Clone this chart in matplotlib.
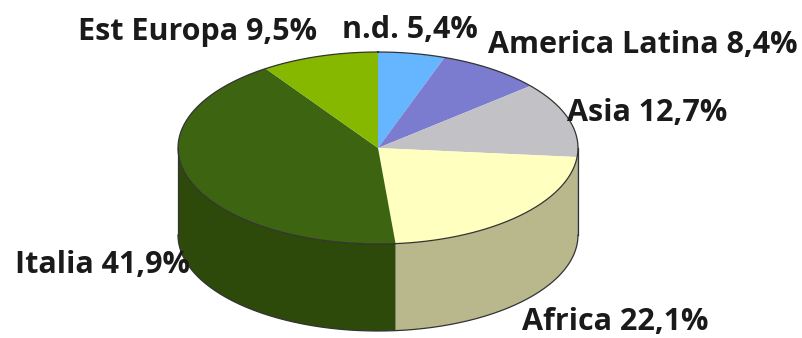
import numpy as np
import matplotlib.pyplot as plt
from matplotlib.patches import Polygon

# quote per area di provenienza, in senso orario dalle ore 12
aree = ["n.d.", "America Latina", "Asia", "Africa", "Italia", "Est Europa"]
quote = [5.4, 8.4, 12.7, 22.1, 41.9, 9.5]

col_sopra = ["#66b5ff", "#7b7bd0", "#c2c2c6", "#ffffc0", "#3d6410", "#86b800"]
col_lato = ["#4d8ccc", "#5c5ca0", "#9a9aa0", "#b8b88c", "#2d4a0a", "#648a00"]

# posizione delle etichette (pixel)
pos_etichette = [(342, 30), (488, 45), (567, 113), (522, 322), (15, 265), (78, 32)]

# geometria della torta
cx, cy = 378, 148
rx, ry = 200, 96
spessore = 87


def punto(a, dy=0):
    # a = gradi in senso orario partendo dall'alto
    r = np.radians(a)
    return cx + rx * np.sin(r), cy - ry * np.cos(r) + dy


def arco(a0, a1, dy=0, n=80):
    aa = np.linspace(a0, a1, n)
    return [punto(a, dy) for a in aa]


fig = plt.figure(figsize=(8.02, 3.38), dpi=100)
ax = fig.add_axes([0, 0, 1, 1])
ax.set_xlim(0, 802)
ax.set_ylim(338, 0)
ax.axis('off')

limiti = np.concatenate([[0], np.cumsum(quote)]) / sum(quote) * 360

# fianchi (solo la metà davanti, tra 90 e 270 gradi)
for i in range(len(quote)):
    a0 = max(limiti[i], 90)
    a1 = min(limiti[i + 1], 270)
    if a1 <= a0:
        continue
    pts = arco(a0, a1) + arco(a1, a0, spessore)
    ax.add_patch(Polygon(pts, closed=True, facecolor=col_lato[i], edgecolor='none'))

# facce superiori
for i in range(len(quote)):
    pts = [(cx, cy)] + arco(limiti[i], limiti[i + 1])
    ax.add_patch(Polygon(pts, closed=True, facecolor=col_sopra[i], edgecolor='none'))

# contorno
bordo = arco(0, 360, n=300)
ax.plot([p[0] for p in bordo], [p[1] for p in bordo], color='#333333', lw=0.9)
fondo = arco(90, 270, spessore, n=200)
ax.plot([p[0] for p in fondo], [p[1] for p in fondo], color='#333333', lw=0.9)
for a in (90, 270):
    x0, y0 = punto(a)
    ax.plot([x0, x0], [y0, y0 + spessore], color='#333333', lw=0.9)

for nome, q, (x, y) in zip(aree, quote, pos_etichette):
    testo = nome + " " + f"{q:.1f}".replace('.', ',') + "%"
    ax.text(x, y, testo, ha='left', va='center', fontsize=22,
            fontweight='bold', family='Open Sans', color='#1a1a1a')

fig.savefig('out.png', dpi=100)
